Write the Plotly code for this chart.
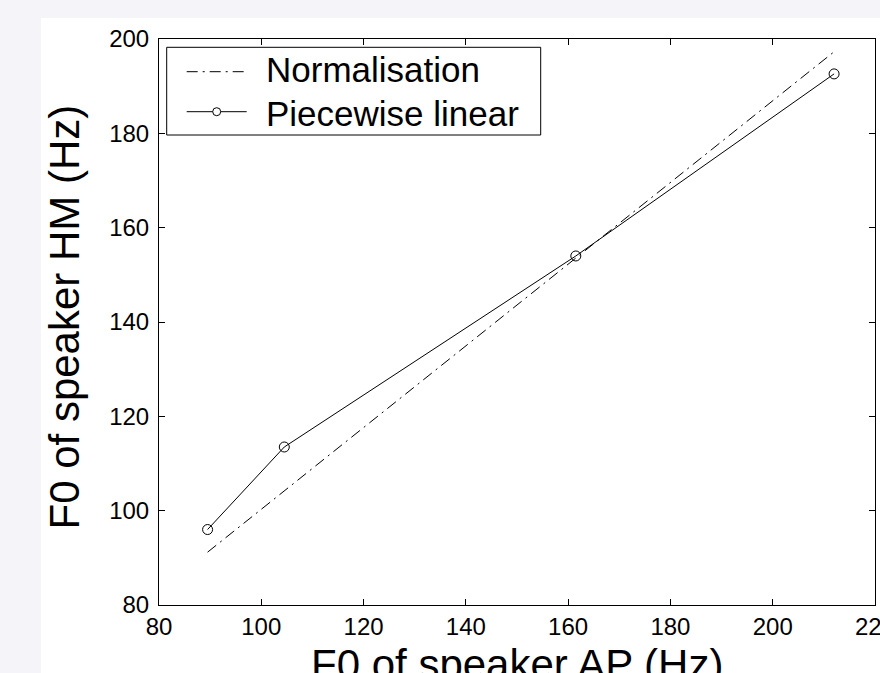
import plotly.graph_objects as go

# Data
ap_piecewise = [89.5, 104.5, 161.5, 212.0]
hm_piecewise = [96.0, 113.5, 154.0, 192.6]
ap_norm = [89.5, 212.0]
hm_norm = [91.2, 197.3]

x_ticks = [80, 100, 120, 140, 160, 180, 200, 220]
y_ticks = [80, 100, 120, 140, 160, 180, 200]

legend_labels = ["Normalisation", "Piecewise linear"]
x_title = "F0 of speaker AP (Hz)"
y_title = "F0 of speaker HM (Hz)"

FONT = "Liberation Sans, Arial, Helvetica, sans-serif"

W, H = 880, 673
L, R, T, B = 159, 5, 39, 68
pw, ph = W - L - R, H - T - B


def px_x(p):
    return (p - L) / pw


def px_y(p):
    return (H - B - p) / ph


fig = go.Figure()
fig.add_trace(go.Scatter(
    x=ap_norm, y=hm_norm, mode="lines",
    line=dict(color="black", width=1, dash="11px,5px,2px,5px"),
    showlegend=False, name=legend_labels[0]))
fig.add_trace(go.Scatter(
    x=ap_piecewise, y=hm_piecewise, mode="lines+markers",
    line=dict(color="black", width=1),
    marker=dict(symbol="circle-open", size=10, color="black", line=dict(width=1)),
    showlegend=False, name=legend_labels[1]))

axis_common = dict(
    showgrid=False, zeroline=False, showline=True, linecolor="black", linewidth=1,
    mirror="ticks", ticks="inside", ticklen=6, tickwidth=1, tickcolor="black",
    tickfont=dict(family=FONT, size=24, color="black"), automargin=False,
    ticklabeloverflow="allow",
)
fig.update_xaxes(range=[80, 220], tickvals=x_ticks, ticktext=[str(v) for v in x_ticks], **axis_common)
fig.update_yaxes(range=[80, 200], tickvals=y_ticks, ticktext=[str(v) for v in y_ticks],
                 ticklabelstandoff=4, **axis_common)

shapes = [
    # white figure area
    dict(type="rect", xref="paper", yref="paper", layer="below",
         x0=px_x(41), x1=px_x(900), y0=px_y(700), y1=px_y(18),
         fillcolor="white", line=dict(width=0)),
    # legend box
    dict(type="rect", xref="paper", yref="paper", layer="above",
         x0=px_x(166.7), x1=px_x(540.7), y0=px_y(135), y1=px_y(47.3),
         fillcolor="white", line=dict(color="black", width=1)),
    dict(type="line", xref="paper", yref="paper", layer="above",
         x0=px_x(186.7), x1=px_x(246.7), y0=px_y(71.7), y1=px_y(71.7),
         line=dict(color="black", width=1, dash="11px,5px,2px,5px")),
    dict(type="line", xref="paper", yref="paper", layer="above",
         x0=px_x(186.7), x1=px_x(246.7), y0=px_y(111.7), y1=px_y(111.7),
         line=dict(color="black", width=1)),
    dict(type="circle", xref="paper", yref="paper", layer="above",
         xsizemode="pixel", ysizemode="pixel",
         xanchor=px_x(216.7), yanchor=px_y(111.7), x0=-4, x1=4, y0=-4, y1=4,
         fillcolor="white", line=dict(color="black", width=1)),
]

annotations = [
    dict(text=legend_labels[0], xref="paper", yref="paper", x=px_x(264), y=px_y(70),
         xanchor="left", yanchor="middle", showarrow=False,
         font=dict(family=FONT, size=35, color="black")),
    dict(text=legend_labels[1], xref="paper", yref="paper", x=px_x(264), y=px_y(113),
         xanchor="left", yanchor="middle", showarrow=False,
         font=dict(family=FONT, size=35, color="black")),
    dict(text=x_title, xref="paper", yref="paper", x=0.5, y=px_y(664),
         xanchor="center", yanchor="middle", showarrow=False,
         font=dict(family=FONT, size=42, color="black")),
    dict(text=y_title, xref="paper", yref="paper", x=px_x(64), y=px_y(317.5), textangle=-90,
         xanchor="center", yanchor="middle", showarrow=False,
         font=dict(family=FONT, size=42, color="black")),
]

fig.update_layout(
    width=W, height=H,
    margin=dict(l=L, r=R, t=T, b=B, pad=0),
    paper_bgcolor="#f4f4f9", plot_bgcolor="white",
    shapes=shapes, annotations=annotations,
    showlegend=False,
    font=dict(family=FONT, color="black"),
)

fig.write_html(
    "out.html",
    config={"displayModeBar": False},
    post_script="document.body.style.margin='0';document.body.style.overflow='hidden';"
                "document.documentElement.style.overflow='hidden';",
)
